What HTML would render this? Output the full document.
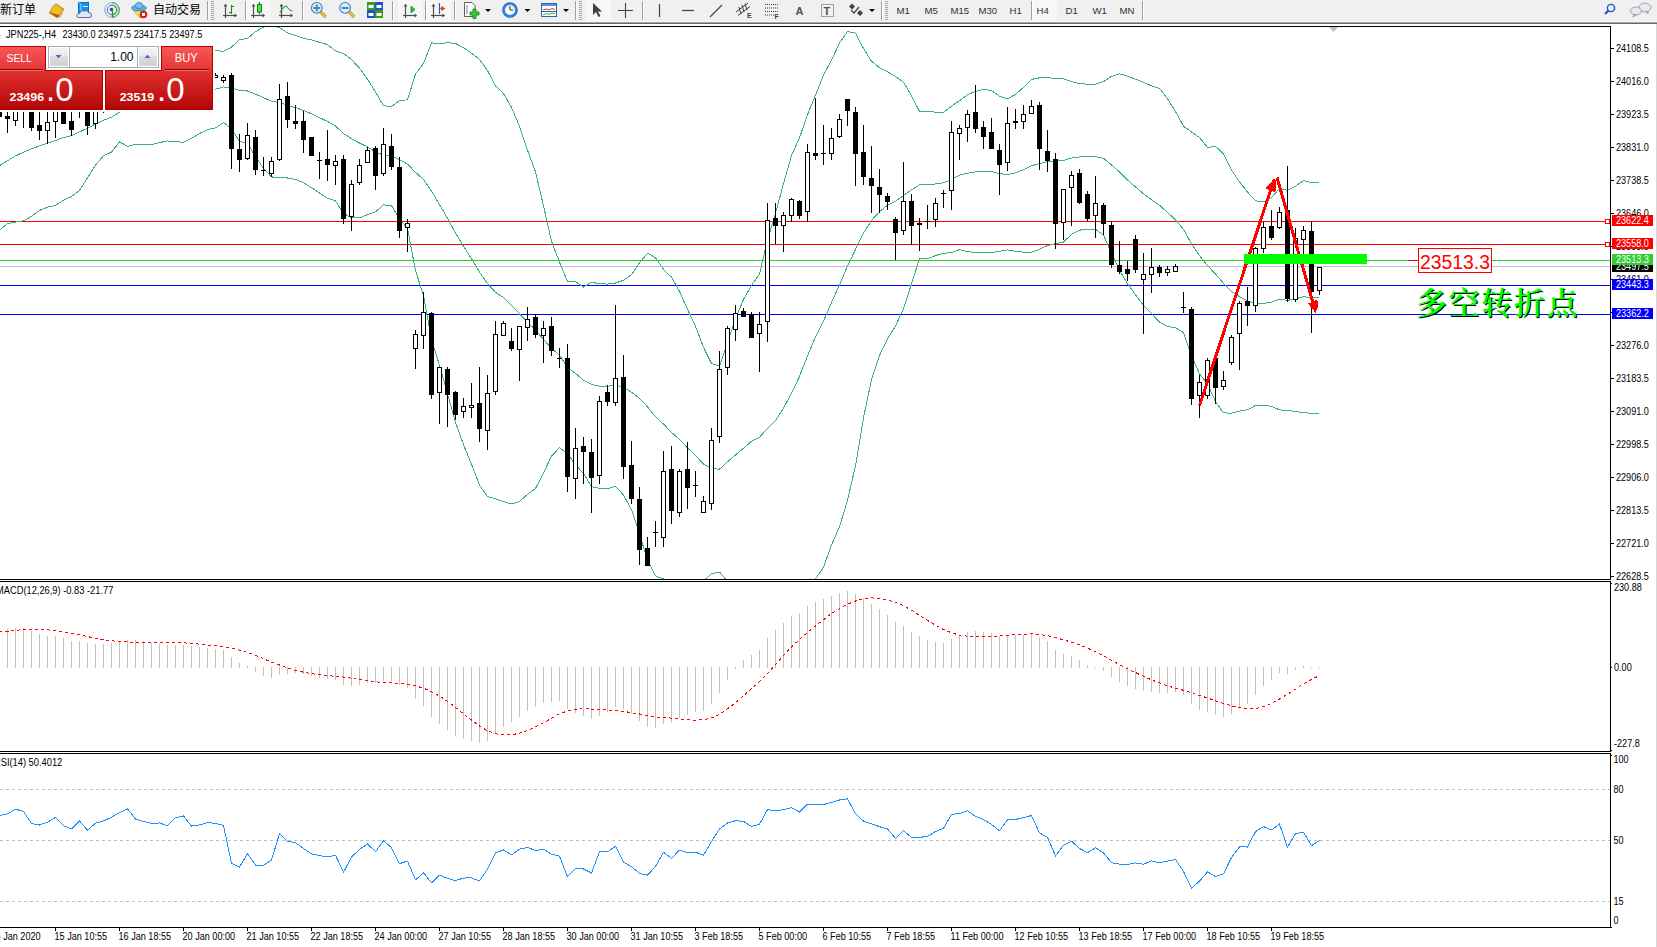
<!DOCTYPE html>
<html><head><meta charset="utf-8"><style>
*{margin:0;padding:0;box-sizing:border-box}
html,body{width:1657px;height:947px;overflow:hidden;background:#fff}
body{position:relative;font-family:"Liberation Sans","Noto Sans CJK SC",sans-serif}
#tb{position:absolute;left:0;top:0;width:1657px;height:24px;background:#f0f0f0;border-bottom:1px solid #696969}
#tb .l1{position:absolute;left:0;top:21px;width:1657px;height:1px;background:#f8f8f8}
#tb .l2{position:absolute;left:0;top:22px;width:1657px;height:1px;background:#a3a3a3}
.rb{position:absolute;left:1656px;top:24px;width:1px;height:923px;background:#d8d8d8}
.info{position:absolute;left:-1px;top:29px;font-size:9.3px;line-height:12px;color:#000;white-space:pre;font-family:"Liberation Sans",sans-serif}
.cn{position:absolute;left:1416px;top:286px;font-family:"Liberation Serif","Noto Serif CJK SC",serif;font-weight:600;font-size:31px;letter-spacing:1.6px;line-height:36px;color:#00ff00;text-shadow:1px 1px 0 #000;white-space:pre}
</style></head><body>
<svg width="1657" height="947" viewBox="0 0 1657 947" style="position:absolute;left:0;top:0"><defs><clipPath id="cm"><rect x="0" y="27" width="1610" height="552"/></clipPath><clipPath id="cmacd"><rect x="0" y="582" width="1610" height="169"/></clipPath><clipPath id="crsi"><rect x="0" y="754" width="1610" height="173"/></clipPath></defs><g clip-path="url(#cm)"><rect x="0" y="221" width="1610" height="1" fill="#ff0000"/><rect x="0" y="244" width="1610" height="1" fill="#ff0000"/><rect x="0" y="260" width="1610" height="1" fill="#32cd32"/><rect x="0" y="266" width="1610" height="1" fill="#c0c0c0"/><rect x="0" y="285" width="1610" height="1" fill="#0000ff"/><rect x="0" y="314" width="1610" height="1" fill="#0000ff"/><rect x="1605.5" y="219.5" width="4" height="4" fill="#fff" stroke="#ff0000" stroke-width="1"/><rect x="1605.5" y="242.5" width="4" height="4" fill="#fff" stroke="#ff0000" stroke-width="1"/><polyline points="-0.5,165.61 7.5,160.72 15.5,155.93 23.5,152.12 31.5,148.97 39.5,145.84 47.5,143.20 55.5,140.41 63.5,137.56 71.5,135.53 79.5,131.92 87.5,128.20 95.5,123.97 103.5,120.27 111.5,117.15 119.5,112.25 127.5,109.50 135.5,106.85 143.5,106.08 151.5,104.94 159.5,103.01 167.5,101.56 175.5,100.09 183.5,98.19 191.5,95.89 199.5,93.32 207.5,90.90 215.5,89.22 223.5,86.93 231.5,87.90 239.5,90.47 247.5,91.00 255.5,94.14 263.5,97.67 271.5,101.28 279.5,102.50 287.5,105.37 295.5,107.60 303.5,110.42 311.5,113.86 319.5,117.64 327.5,121.38 335.5,125.89 343.5,133.49 351.5,138.67 359.5,143.03 367.5,146.88 375.5,151.92 383.5,155.29 391.5,156.17 399.5,159.72 407.5,164.08 415.5,172.35 423.5,179.47 431.5,191.13 439.5,204.57 447.5,218.33 455.5,232.88 463.5,246.22 471.5,258.75 479.5,272.13 487.5,283.58 495.5,292.27 503.5,297.54 511.5,305.72 519.5,313.77 527.5,322.23 535.5,330.18 543.5,339.38 551.5,348.59 559.5,354.97 567.5,367.62 575.5,373.32 583.5,380.25 591.5,384.41 599.5,386.07 607.5,386.41 615.5,384.62 623.5,387.62 631.5,392.23 639.5,398.28 647.5,406.89 655.5,416.77 663.5,424.16 671.5,432.27 679.5,439.53 687.5,447.89 695.5,455.45 703.5,464.10 711.5,468.59 719.5,469.17 727.5,461.81 735.5,455.02 743.5,448.26 751.5,441.24 759.5,437.39 767.5,428.33 775.5,420.68 783.5,408.13 791.5,393.21 799.5,376.49 807.5,355.88 815.5,337.00 823.5,321.12 831.5,302.50 839.5,284.89 847.5,266.05 855.5,249.43 863.5,233.15 871.5,220.40 879.5,211.64 887.5,205.26 895.5,201.21 903.5,195.47 911.5,189.88 919.5,184.90 927.5,184.97 935.5,183.88 943.5,182.78 951.5,179.44 959.5,175.13 967.5,173.23 975.5,171.89 983.5,171.01 991.5,171.52 999.5,173.74 1007.5,174.41 1015.5,172.87 1023.5,169.80 1031.5,165.88 1039.5,163.57 1047.5,161.52 1055.5,161.06 1063.5,160.50 1071.5,158.03 1079.5,156.94 1087.5,156.79 1095.5,156.79 1103.5,158.28 1111.5,164.86 1119.5,171.98 1127.5,179.90 1135.5,186.94 1143.5,193.83 1151.5,199.78 1159.5,205.21 1167.5,212.53 1175.5,219.74 1183.5,229.37 1191.5,243.95 1199.5,255.68 1207.5,265.69 1215.5,273.90 1223.5,283.41 1231.5,291.51 1239.5,296.58 1247.5,300.91 1255.5,303.17 1263.5,303.37 1271.5,302.05 1279.5,299.13 1287.5,300.39 1295.5,298.83 1303.5,296.67 1311.5,297.88 1319.5,297.59" fill="none" stroke="#3cb371" stroke-width="1" shape-rendering="crispEdges" stroke-linejoin="round"/><polyline points="-0.5,229.94 7.5,223.79 15.5,222.03 23.5,220.84 31.5,216.23 39.5,210.44 47.5,207.15 55.5,205.38 63.5,200.28 71.5,196.55 79.5,190.40 87.5,177.79 95.5,165.08 103.5,155.68 111.5,152.13 119.5,141.88 127.5,146.26 135.5,144.40 143.5,144.92 151.5,144.67 159.5,142.64 167.5,140.97 175.5,141.72 183.5,142.26 191.5,138.48 199.5,133.51 207.5,129.69 215.5,127.80 223.5,122.52 231.5,128.71 239.5,141.29 247.5,143.45 255.5,156.54 263.5,168.35 271.5,176.98 279.5,177.22 287.5,178.01 295.5,179.58 303.5,182.71 311.5,187.78 319.5,193.01 327.5,198.18 335.5,200.85 343.5,213.41 351.5,217.76 359.5,217.87 367.5,214.62 375.5,211.91 383.5,204.79 391.5,205.79 399.5,218.97 407.5,228.30 415.5,270.71 423.5,295.30 431.5,339.51 439.5,365.31 447.5,393.95 455.5,422.30 463.5,444.76 471.5,464.24 479.5,485.05 487.5,496.67 495.5,498.72 503.5,501.55 511.5,504.00 519.5,501.45 527.5,494.34 535.5,488.52 543.5,473.02 551.5,456.00 559.5,447.70 567.5,453.73 575.5,464.93 583.5,473.43 591.5,486.68 599.5,488.29 607.5,488.78 615.5,486.22 623.5,494.94 631.5,509.74 639.5,533.69 647.5,560.53 655.5,575.91 663.5,579.03 671.5,587.36 679.5,587.60 687.5,586.59 695.5,584.68 703.5,580.83 711.5,573.79 719.5,572.03 727.5,581.34 735.5,591.00 743.5,597.15 751.5,597.06 759.5,600.62 767.5,616.76 775.5,628.04 783.5,632.64 791.5,631.10 799.5,615.14 807.5,596.99 815.5,578.98 823.5,567.32 831.5,544.93 839.5,526.72 847.5,500.51 855.5,465.79 863.5,417.77 871.5,379.59 879.5,355.57 887.5,338.77 895.5,326.01 903.5,308.64 911.5,283.97 919.5,258.33 927.5,258.54 935.5,255.63 943.5,253.24 951.5,252.67 959.5,249.61 967.5,251.72 975.5,252.46 983.5,252.73 991.5,252.53 999.5,251.31 1007.5,249.98 1015.5,251.33 1023.5,252.20 1031.5,252.34 1039.5,249.34 1047.5,245.52 1055.5,243.59 1063.5,242.07 1071.5,234.45 1079.5,230.08 1087.5,229.44 1095.5,229.42 1103.5,234.96 1111.5,253.34 1119.5,270.10 1127.5,283.69 1135.5,294.81 1143.5,305.42 1151.5,313.64 1159.5,322.08 1167.5,326.33 1175.5,327.88 1183.5,332.60 1191.5,355.86 1199.5,373.91 1207.5,383.86 1215.5,401.51 1223.5,412.91 1231.5,413.11 1239.5,411.16 1247.5,409.75 1255.5,405.53 1263.5,405.11 1271.5,406.43 1279.5,409.88 1287.5,410.49 1295.5,411.50 1303.5,412.76 1311.5,413.21 1319.5,413.20" fill="none" stroke="#3cb371" stroke-width="1" shape-rendering="crispEdges" stroke-linejoin="round"/><polyline points="-0.5,101.29 7.5,97.65 15.5,89.83 23.5,83.40 31.5,81.72 39.5,81.24 47.5,79.24 55.5,75.44 63.5,74.84 71.5,74.50 79.5,73.43 87.5,78.61 95.5,82.86 103.5,84.85 111.5,82.17 119.5,82.62 127.5,72.74 135.5,69.30 143.5,67.24 151.5,65.21 159.5,63.37 167.5,62.15 175.5,58.45 183.5,54.12 191.5,53.31 199.5,53.13 207.5,52.10 215.5,50.63 223.5,51.34 231.5,47.09 239.5,39.65 247.5,38.55 255.5,31.75 263.5,26.98 271.5,25.57 279.5,27.78 287.5,32.74 295.5,35.62 303.5,38.14 311.5,39.94 319.5,42.27 327.5,44.59 335.5,50.94 343.5,53.57 351.5,59.57 359.5,68.19 367.5,79.14 375.5,91.92 383.5,105.79 391.5,106.55 399.5,100.46 407.5,99.86 415.5,73.99 423.5,63.65 431.5,42.75 439.5,43.83 447.5,42.71 455.5,43.46 463.5,47.69 471.5,53.27 479.5,59.22 487.5,70.49 495.5,85.82 503.5,93.54 511.5,107.44 519.5,126.09 527.5,150.13 535.5,171.84 543.5,205.75 551.5,241.18 559.5,262.24 567.5,281.51 575.5,281.72 583.5,287.07 591.5,282.14 599.5,283.86 607.5,284.04 615.5,283.03 623.5,280.30 631.5,274.73 639.5,262.88 647.5,253.25 655.5,257.63 663.5,269.30 671.5,277.19 679.5,291.46 687.5,309.20 695.5,326.23 703.5,347.37 711.5,363.39 719.5,366.31 727.5,342.28 735.5,319.05 743.5,299.37 751.5,285.43 759.5,274.16 767.5,239.90 775.5,213.31 783.5,183.63 791.5,155.32 799.5,137.85 807.5,114.76 815.5,95.03 823.5,74.91 831.5,60.06 839.5,43.06 847.5,31.58 855.5,33.07 863.5,48.53 871.5,61.22 879.5,67.71 887.5,71.76 895.5,76.42 903.5,82.31 911.5,95.80 919.5,111.47 927.5,111.40 935.5,112.13 943.5,112.31 951.5,106.20 959.5,100.64 967.5,94.73 975.5,91.32 983.5,89.29 991.5,90.50 999.5,96.16 1007.5,98.83 1015.5,94.40 1023.5,87.39 1031.5,79.42 1039.5,77.80 1047.5,77.52 1055.5,78.53 1063.5,78.92 1071.5,81.61 1079.5,83.79 1087.5,84.14 1095.5,84.15 1103.5,81.60 1111.5,76.38 1119.5,73.86 1127.5,76.11 1135.5,79.08 1143.5,82.25 1151.5,85.92 1159.5,88.35 1167.5,98.72 1175.5,111.60 1183.5,126.14 1191.5,132.05 1199.5,137.45 1207.5,147.52 1215.5,146.29 1223.5,153.92 1231.5,169.91 1239.5,182.01 1247.5,192.07 1255.5,200.81 1263.5,201.64 1271.5,197.67 1279.5,188.38 1287.5,190.28 1295.5,186.16 1303.5,180.58 1311.5,182.54 1319.5,181.97" fill="none" stroke="#3cb371" stroke-width="1" shape-rendering="crispEdges" stroke-linejoin="round"/><rect x="-1" y="95" width="1" height="22" fill="#000"/><rect x="-3" y="100" width="5" height="17" fill="#000"/><rect x="7" y="95" width="1" height="38" fill="#000"/><rect x="5" y="116" width="5" height="3" fill="#000"/><rect x="15" y="95" width="1" height="31" fill="#000"/><rect x="13" y="100" width="5" height="21" fill="#000"/><rect x="14" y="101" width="3" height="19" fill="#fff"/><rect x="23" y="100" width="1" height="28" fill="#000"/><rect x="31" y="95" width="1" height="36" fill="#000"/><rect x="29" y="100" width="5" height="28" fill="#000"/><rect x="39" y="95" width="1" height="45" fill="#000"/><rect x="37" y="125" width="5" height="6" fill="#000"/><rect x="47" y="95" width="1" height="49" fill="#000"/><rect x="45" y="122" width="5" height="9" fill="#000"/><rect x="46" y="123" width="3" height="7" fill="#fff"/><rect x="55" y="95" width="1" height="43" fill="#000"/><rect x="53" y="100" width="5" height="22" fill="#000"/><rect x="54" y="101" width="3" height="20" fill="#fff"/><rect x="63" y="95" width="1" height="29" fill="#000"/><rect x="61" y="100" width="5" height="24" fill="#000"/><rect x="71" y="95" width="1" height="41" fill="#000"/><rect x="69" y="121" width="5" height="9" fill="#000"/><rect x="79" y="100" width="1" height="18" fill="#000"/><rect x="87" y="95" width="1" height="40" fill="#000"/><rect x="85" y="100" width="5" height="26" fill="#000"/><rect x="95" y="95" width="1" height="34" fill="#000"/><rect x="93" y="100" width="5" height="24" fill="#000"/><rect x="94" y="101" width="3" height="22" fill="#fff"/><rect x="103" y="100" width="1" height="13" fill="#000"/><rect x="215" y="73" width="1" height="5" fill="#000"/><rect x="213" y="75" width="5" height="3" fill="#000"/><rect x="214" y="76" width="3" height="1" fill="#fff"/><rect x="223" y="75" width="1" height="8" fill="#000"/><rect x="221" y="77" width="5" height="4" fill="#000"/><rect x="222" y="78" width="3" height="2" fill="#fff"/><rect x="231" y="73" width="1" height="96" fill="#000"/><rect x="229" y="75" width="5" height="74" fill="#000"/><rect x="239" y="134" width="1" height="38" fill="#000"/><rect x="237" y="149" width="5" height="11" fill="#000"/><rect x="247" y="123" width="1" height="37" fill="#000"/><rect x="245" y="135" width="5" height="24" fill="#000"/><rect x="246" y="136" width="3" height="22" fill="#fff"/><rect x="255" y="130" width="1" height="45" fill="#000"/><rect x="253" y="137" width="5" height="33" fill="#000"/><rect x="263" y="157" width="1" height="19" fill="#000"/><rect x="261" y="170" width="5" height="1" fill="#000"/><rect x="271" y="157" width="1" height="20" fill="#000"/><rect x="269" y="161" width="5" height="13" fill="#000"/><rect x="270" y="162" width="3" height="11" fill="#fff"/><rect x="279" y="84" width="1" height="77" fill="#000"/><rect x="277" y="99" width="5" height="61" fill="#000"/><rect x="278" y="100" width="3" height="59" fill="#fff"/><rect x="287" y="82" width="1" height="46" fill="#000"/><rect x="285" y="96" width="5" height="24" fill="#000"/><rect x="295" y="105" width="1" height="24" fill="#000"/><rect x="293" y="121" width="5" height="3" fill="#000"/><rect x="303" y="111" width="1" height="42" fill="#000"/><rect x="301" y="121" width="5" height="19" fill="#000"/><rect x="311" y="137" width="1" height="19" fill="#000"/><rect x="309" y="137" width="5" height="19" fill="#000"/><rect x="319" y="152" width="1" height="27" fill="#000"/><rect x="317" y="160" width="5" height="1" fill="#000"/><rect x="327" y="130" width="1" height="51" fill="#000"/><rect x="325" y="159" width="5" height="6" fill="#000"/><rect x="335" y="155" width="1" height="30" fill="#000"/><rect x="333" y="161" width="5" height="5" fill="#000"/><rect x="334" y="162" width="3" height="3" fill="#fff"/><rect x="343" y="155" width="1" height="69" fill="#000"/><rect x="341" y="159" width="5" height="60" fill="#000"/><rect x="351" y="180" width="1" height="51" fill="#000"/><rect x="349" y="184" width="5" height="33" fill="#000"/><rect x="350" y="185" width="3" height="31" fill="#fff"/><rect x="359" y="159" width="1" height="26" fill="#000"/><rect x="357" y="165" width="5" height="18" fill="#000"/><rect x="358" y="166" width="3" height="16" fill="#fff"/><rect x="367" y="147" width="1" height="16" fill="#000"/><rect x="365" y="150" width="5" height="13" fill="#000"/><rect x="366" y="151" width="3" height="11" fill="#fff"/><rect x="375" y="146" width="1" height="44" fill="#000"/><rect x="373" y="148" width="5" height="28" fill="#000"/><rect x="383" y="128" width="1" height="48" fill="#000"/><rect x="381" y="144" width="5" height="30" fill="#000"/><rect x="382" y="145" width="3" height="28" fill="#fff"/><rect x="391" y="134" width="1" height="36" fill="#000"/><rect x="389" y="146" width="5" height="21" fill="#000"/><rect x="399" y="157" width="1" height="81" fill="#000"/><rect x="397" y="167" width="5" height="64" fill="#000"/><rect x="407" y="219" width="1" height="33" fill="#000"/><rect x="405" y="223" width="5" height="5" fill="#000"/><rect x="406" y="224" width="3" height="3" fill="#fff"/><rect x="415" y="330" width="1" height="39" fill="#000"/><rect x="413" y="334" width="5" height="15" fill="#000"/><rect x="414" y="335" width="3" height="13" fill="#fff"/><rect x="423" y="292" width="1" height="57" fill="#000"/><rect x="421" y="312" width="5" height="24" fill="#000"/><rect x="422" y="313" width="3" height="22" fill="#fff"/><rect x="431" y="312" width="1" height="87" fill="#000"/><rect x="429" y="313" width="5" height="82" fill="#000"/><rect x="439" y="367" width="1" height="57" fill="#000"/><rect x="437" y="367" width="5" height="26" fill="#000"/><rect x="438" y="368" width="3" height="24" fill="#fff"/><rect x="447" y="367" width="1" height="60" fill="#000"/><rect x="445" y="369" width="5" height="26" fill="#000"/><rect x="455" y="391" width="1" height="29" fill="#000"/><rect x="453" y="392" width="5" height="23" fill="#000"/><rect x="463" y="398" width="1" height="20" fill="#000"/><rect x="461" y="406" width="5" height="6" fill="#000"/><rect x="462" y="407" width="3" height="4" fill="#fff"/><rect x="471" y="383" width="1" height="35" fill="#000"/><rect x="469" y="405" width="5" height="3" fill="#000"/><rect x="470" y="406" width="3" height="1" fill="#fff"/><rect x="479" y="367" width="1" height="75" fill="#000"/><rect x="477" y="403" width="5" height="26" fill="#000"/><rect x="487" y="375" width="1" height="75" fill="#000"/><rect x="485" y="393" width="5" height="38" fill="#000"/><rect x="486" y="394" width="3" height="36" fill="#fff"/><rect x="495" y="321" width="1" height="74" fill="#000"/><rect x="493" y="334" width="5" height="58" fill="#000"/><rect x="494" y="335" width="3" height="56" fill="#fff"/><rect x="503" y="321" width="1" height="15" fill="#000"/><rect x="501" y="323" width="5" height="13" fill="#000"/><rect x="502" y="324" width="3" height="11" fill="#fff"/><rect x="511" y="328" width="1" height="23" fill="#000"/><rect x="509" y="341" width="5" height="8" fill="#000"/><rect x="519" y="326" width="1" height="55" fill="#000"/><rect x="517" y="326" width="5" height="24" fill="#000"/><rect x="518" y="327" width="3" height="22" fill="#fff"/><rect x="527" y="307" width="1" height="34" fill="#000"/><rect x="525" y="319" width="5" height="9" fill="#000"/><rect x="526" y="320" width="3" height="7" fill="#fff"/><rect x="535" y="314" width="1" height="24" fill="#000"/><rect x="533" y="317" width="5" height="18" fill="#000"/><rect x="543" y="321" width="1" height="42" fill="#000"/><rect x="541" y="328" width="5" height="8" fill="#000"/><rect x="542" y="329" width="3" height="6" fill="#fff"/><rect x="551" y="317" width="1" height="39" fill="#000"/><rect x="549" y="326" width="5" height="25" fill="#000"/><rect x="559" y="348" width="1" height="20" fill="#000"/><rect x="557" y="358" width="5" height="1" fill="#000"/><rect x="567" y="344" width="1" height="148" fill="#000"/><rect x="565" y="358" width="5" height="119" fill="#000"/><rect x="575" y="428" width="1" height="71" fill="#000"/><rect x="573" y="448" width="5" height="31" fill="#000"/><rect x="574" y="449" width="3" height="29" fill="#fff"/><rect x="583" y="437" width="1" height="47" fill="#000"/><rect x="581" y="446" width="5" height="6" fill="#000"/><rect x="591" y="439" width="1" height="74" fill="#000"/><rect x="589" y="452" width="5" height="26" fill="#000"/><rect x="599" y="396" width="1" height="88" fill="#000"/><rect x="597" y="401" width="5" height="75" fill="#000"/><rect x="598" y="402" width="3" height="73" fill="#fff"/><rect x="607" y="385" width="1" height="21" fill="#000"/><rect x="605" y="392" width="5" height="10" fill="#000"/><rect x="615" y="305" width="1" height="101" fill="#000"/><rect x="613" y="378" width="5" height="25" fill="#000"/><rect x="614" y="379" width="3" height="23" fill="#fff"/><rect x="623" y="355" width="1" height="124" fill="#000"/><rect x="621" y="377" width="5" height="90" fill="#000"/><rect x="631" y="441" width="1" height="63" fill="#000"/><rect x="629" y="465" width="5" height="34" fill="#000"/><rect x="639" y="487" width="1" height="78" fill="#000"/><rect x="637" y="499" width="5" height="51" fill="#000"/><rect x="647" y="537" width="1" height="29" fill="#000"/><rect x="645" y="548" width="5" height="18" fill="#000"/><rect x="655" y="521" width="1" height="26" fill="#000"/><rect x="653" y="532" width="5" height="1" fill="#000"/><rect x="663" y="451" width="1" height="96" fill="#000"/><rect x="661" y="471" width="5" height="67" fill="#000"/><rect x="662" y="472" width="3" height="65" fill="#fff"/><rect x="671" y="446" width="1" height="78" fill="#000"/><rect x="669" y="469" width="5" height="42" fill="#000"/><rect x="679" y="469" width="1" height="48" fill="#000"/><rect x="677" y="471" width="5" height="42" fill="#000"/><rect x="678" y="472" width="3" height="40" fill="#fff"/><rect x="687" y="442" width="1" height="67" fill="#000"/><rect x="685" y="469" width="5" height="19" fill="#000"/><rect x="695" y="471" width="1" height="26" fill="#000"/><rect x="693" y="485" width="5" height="1" fill="#000"/><rect x="703" y="496" width="1" height="17" fill="#000"/><rect x="701" y="501" width="5" height="12" fill="#000"/><rect x="702" y="502" width="3" height="10" fill="#fff"/><rect x="711" y="428" width="1" height="82" fill="#000"/><rect x="709" y="440" width="5" height="64" fill="#000"/><rect x="710" y="441" width="3" height="62" fill="#fff"/><rect x="719" y="351" width="1" height="92" fill="#000"/><rect x="717" y="369" width="5" height="68" fill="#000"/><rect x="718" y="370" width="3" height="66" fill="#fff"/><rect x="727" y="326" width="1" height="49" fill="#000"/><rect x="725" y="328" width="5" height="40" fill="#000"/><rect x="726" y="329" width="3" height="38" fill="#fff"/><rect x="735" y="305" width="1" height="36" fill="#000"/><rect x="733" y="313" width="5" height="17" fill="#000"/><rect x="734" y="314" width="3" height="15" fill="#fff"/><rect x="743" y="308" width="1" height="9" fill="#000"/><rect x="741" y="311" width="5" height="6" fill="#000"/><rect x="751" y="312" width="1" height="26" fill="#000"/><rect x="749" y="314" width="5" height="24" fill="#000"/><rect x="759" y="312" width="1" height="60" fill="#000"/><rect x="757" y="324" width="5" height="10" fill="#000"/><rect x="758" y="325" width="3" height="8" fill="#fff"/><rect x="767" y="203" width="1" height="139" fill="#000"/><rect x="765" y="220" width="5" height="102" fill="#000"/><rect x="766" y="221" width="3" height="100" fill="#fff"/><rect x="775" y="203" width="1" height="41" fill="#000"/><rect x="773" y="218" width="5" height="8" fill="#000"/><rect x="783" y="212" width="1" height="40" fill="#000"/><rect x="781" y="215" width="5" height="11" fill="#000"/><rect x="782" y="216" width="3" height="9" fill="#fff"/><rect x="791" y="198" width="1" height="24" fill="#000"/><rect x="789" y="199" width="5" height="17" fill="#000"/><rect x="790" y="200" width="3" height="15" fill="#fff"/><rect x="799" y="200" width="1" height="19" fill="#000"/><rect x="797" y="201" width="5" height="15" fill="#000"/><rect x="807" y="144" width="1" height="78" fill="#000"/><rect x="805" y="152" width="5" height="60" fill="#000"/><rect x="806" y="153" width="3" height="58" fill="#fff"/><rect x="815" y="98" width="1" height="62" fill="#000"/><rect x="813" y="153" width="5" height="3" fill="#000"/><rect x="823" y="125" width="1" height="40" fill="#000"/><rect x="821" y="153" width="5" height="1" fill="#000"/><rect x="831" y="128" width="1" height="32" fill="#000"/><rect x="829" y="138" width="5" height="16" fill="#000"/><rect x="830" y="139" width="3" height="14" fill="#fff"/><rect x="839" y="114" width="1" height="24" fill="#000"/><rect x="837" y="119" width="5" height="18" fill="#000"/><rect x="838" y="120" width="3" height="16" fill="#fff"/><rect x="847" y="99" width="1" height="27" fill="#000"/><rect x="845" y="99" width="5" height="12" fill="#000"/><rect x="855" y="107" width="1" height="79" fill="#000"/><rect x="853" y="112" width="5" height="42" fill="#000"/><rect x="863" y="125" width="1" height="60" fill="#000"/><rect x="861" y="152" width="5" height="25" fill="#000"/><rect x="871" y="146" width="1" height="67" fill="#000"/><rect x="869" y="178" width="5" height="8" fill="#000"/><rect x="879" y="169" width="1" height="44" fill="#000"/><rect x="877" y="187" width="5" height="8" fill="#000"/><rect x="887" y="193" width="1" height="17" fill="#000"/><rect x="885" y="196" width="5" height="6" fill="#000"/><rect x="895" y="217" width="1" height="43" fill="#000"/><rect x="893" y="219" width="5" height="14" fill="#000"/><rect x="903" y="162" width="1" height="73" fill="#000"/><rect x="901" y="201" width="5" height="30" fill="#000"/><rect x="902" y="202" width="3" height="28" fill="#fff"/><rect x="911" y="194" width="1" height="51" fill="#000"/><rect x="909" y="201" width="5" height="25" fill="#000"/><rect x="919" y="218" width="1" height="33" fill="#000"/><rect x="917" y="223" width="5" height="2" fill="#000"/><rect x="927" y="205" width="1" height="24" fill="#000"/><rect x="925" y="221" width="5" height="1" fill="#000"/><rect x="935" y="198" width="1" height="29" fill="#000"/><rect x="933" y="203" width="5" height="17" fill="#000"/><rect x="934" y="204" width="3" height="15" fill="#fff"/><rect x="943" y="190" width="1" height="18" fill="#000"/><rect x="941" y="193" width="5" height="1" fill="#000"/><rect x="951" y="121" width="1" height="89" fill="#000"/><rect x="949" y="132" width="5" height="59" fill="#000"/><rect x="950" y="133" width="3" height="57" fill="#fff"/><rect x="959" y="125" width="1" height="35" fill="#000"/><rect x="957" y="128" width="5" height="6" fill="#000"/><rect x="958" y="129" width="3" height="4" fill="#fff"/><rect x="967" y="110" width="1" height="32" fill="#000"/><rect x="965" y="114" width="5" height="14" fill="#000"/><rect x="966" y="115" width="3" height="12" fill="#fff"/><rect x="975" y="85" width="1" height="48" fill="#000"/><rect x="973" y="112" width="5" height="17" fill="#000"/><rect x="983" y="121" width="1" height="28" fill="#000"/><rect x="981" y="127" width="5" height="10" fill="#000"/><rect x="991" y="118" width="1" height="31" fill="#000"/><rect x="989" y="132" width="5" height="17" fill="#000"/><rect x="999" y="144" width="1" height="51" fill="#000"/><rect x="997" y="150" width="5" height="15" fill="#000"/><rect x="1007" y="107" width="1" height="64" fill="#000"/><rect x="1005" y="123" width="5" height="40" fill="#000"/><rect x="1006" y="124" width="3" height="38" fill="#fff"/><rect x="1015" y="109" width="1" height="20" fill="#000"/><rect x="1013" y="121" width="5" height="2" fill="#000"/><rect x="1023" y="105" width="1" height="24" fill="#000"/><rect x="1021" y="114" width="5" height="8" fill="#000"/><rect x="1022" y="115" width="3" height="6" fill="#fff"/><rect x="1031" y="100" width="1" height="14" fill="#000"/><rect x="1029" y="106" width="5" height="8" fill="#000"/><rect x="1030" y="107" width="3" height="6" fill="#fff"/><rect x="1039" y="102" width="1" height="68" fill="#000"/><rect x="1037" y="105" width="5" height="44" fill="#000"/><rect x="1047" y="130" width="1" height="42" fill="#000"/><rect x="1045" y="151" width="5" height="10" fill="#000"/><rect x="1055" y="153" width="1" height="96" fill="#000"/><rect x="1053" y="159" width="5" height="65" fill="#000"/><rect x="1063" y="189" width="1" height="51" fill="#000"/><rect x="1061" y="189" width="5" height="34" fill="#000"/><rect x="1062" y="190" width="3" height="32" fill="#fff"/><rect x="1071" y="171" width="1" height="55" fill="#000"/><rect x="1069" y="175" width="5" height="13" fill="#000"/><rect x="1070" y="176" width="3" height="11" fill="#fff"/><rect x="1079" y="169" width="1" height="35" fill="#000"/><rect x="1077" y="173" width="5" height="30" fill="#000"/><rect x="1087" y="191" width="1" height="30" fill="#000"/><rect x="1085" y="194" width="5" height="25" fill="#000"/><rect x="1095" y="176" width="1" height="62" fill="#000"/><rect x="1093" y="203" width="5" height="13" fill="#000"/><rect x="1094" y="204" width="3" height="11" fill="#fff"/><rect x="1103" y="203" width="1" height="32" fill="#000"/><rect x="1101" y="205" width="5" height="19" fill="#000"/><rect x="1111" y="221" width="1" height="47" fill="#000"/><rect x="1109" y="225" width="5" height="40" fill="#000"/><rect x="1119" y="241" width="1" height="33" fill="#000"/><rect x="1117" y="265" width="5" height="7" fill="#000"/><rect x="1127" y="261" width="1" height="20" fill="#000"/><rect x="1125" y="269" width="5" height="5" fill="#000"/><rect x="1135" y="235" width="1" height="38" fill="#000"/><rect x="1133" y="239" width="5" height="31" fill="#000"/><rect x="1143" y="253" width="1" height="81" fill="#000"/><rect x="1141" y="274" width="5" height="6" fill="#000"/><rect x="1142" y="275" width="3" height="4" fill="#fff"/><rect x="1151" y="248" width="1" height="45" fill="#000"/><rect x="1149" y="267" width="5" height="8" fill="#000"/><rect x="1150" y="268" width="3" height="6" fill="#fff"/><rect x="1159" y="265" width="1" height="12" fill="#000"/><rect x="1157" y="267" width="5" height="6" fill="#000"/><rect x="1167" y="266" width="1" height="10" fill="#000"/><rect x="1165" y="269" width="5" height="4" fill="#000"/><rect x="1166" y="270" width="3" height="2" fill="#fff"/><rect x="1175" y="264" width="1" height="8" fill="#000"/><rect x="1173" y="266" width="5" height="6" fill="#000"/><rect x="1174" y="267" width="3" height="4" fill="#fff"/><rect x="1183" y="292" width="1" height="21" fill="#000"/><rect x="1181" y="307" width="5" height="1" fill="#000"/><rect x="1191" y="307" width="1" height="98" fill="#000"/><rect x="1189" y="309" width="5" height="90" fill="#000"/><rect x="1199" y="375" width="1" height="43" fill="#000"/><rect x="1197" y="382" width="5" height="14" fill="#000"/><rect x="1198" y="383" width="3" height="12" fill="#fff"/><rect x="1207" y="358" width="1" height="41" fill="#000"/><rect x="1205" y="360" width="5" height="36" fill="#000"/><rect x="1206" y="361" width="3" height="34" fill="#fff"/><rect x="1215" y="358" width="1" height="46" fill="#000"/><rect x="1213" y="358" width="5" height="30" fill="#000"/><rect x="1223" y="371" width="1" height="19" fill="#000"/><rect x="1221" y="380" width="5" height="7" fill="#000"/><rect x="1222" y="381" width="3" height="5" fill="#fff"/><rect x="1231" y="335" width="1" height="30" fill="#000"/><rect x="1229" y="337" width="5" height="26" fill="#000"/><rect x="1230" y="338" width="3" height="24" fill="#fff"/><rect x="1239" y="301" width="1" height="69" fill="#000"/><rect x="1237" y="303" width="5" height="31" fill="#000"/><rect x="1238" y="304" width="3" height="29" fill="#fff"/><rect x="1247" y="287" width="1" height="39" fill="#000"/><rect x="1245" y="301" width="5" height="5" fill="#000"/><rect x="1255" y="247" width="1" height="65" fill="#000"/><rect x="1253" y="248" width="5" height="58" fill="#000"/><rect x="1254" y="249" width="3" height="56" fill="#fff"/><rect x="1263" y="222" width="1" height="31" fill="#000"/><rect x="1261" y="227" width="5" height="22" fill="#000"/><rect x="1262" y="228" width="3" height="20" fill="#fff"/><rect x="1271" y="210" width="1" height="30" fill="#000"/><rect x="1269" y="226" width="5" height="12" fill="#000"/><rect x="1279" y="207" width="1" height="22" fill="#000"/><rect x="1277" y="212" width="5" height="16" fill="#000"/><rect x="1278" y="213" width="3" height="14" fill="#fff"/><rect x="1287" y="166" width="1" height="136" fill="#000"/><rect x="1285" y="210" width="5" height="89" fill="#000"/><rect x="1295" y="228" width="1" height="74" fill="#000"/><rect x="1293" y="238" width="5" height="62" fill="#000"/><rect x="1294" y="239" width="3" height="60" fill="#fff"/><rect x="1303" y="226" width="1" height="29" fill="#000"/><rect x="1301" y="230" width="5" height="10" fill="#000"/><rect x="1302" y="231" width="3" height="8" fill="#fff"/><rect x="1311" y="221" width="1" height="112" fill="#000"/><rect x="1309" y="231" width="5" height="61" fill="#000"/><rect x="1319" y="267" width="1" height="28" fill="#000"/><rect x="1317" y="267" width="5" height="24" fill="#000"/><rect x="1318" y="268" width="3" height="22" fill="#fff"/></g><rect x="0" y="26" width="1611" height="1" fill="#000"/><rect x="0" y="579" width="1611" height="1" fill="#000"/><rect x="1610" y="26" width="1" height="554" fill="#000"/><rect x="0" y="581" width="1611" height="1" fill="#000"/><rect x="0" y="751" width="1611" height="1" fill="#000"/><rect x="1610" y="581" width="1" height="171" fill="#000"/><rect x="0" y="753" width="1611" height="1" fill="#000"/><rect x="0" y="927" width="1611" height="1" fill="#000"/><rect x="1610" y="753" width="1" height="175" fill="#000"/><rect x="1611" y="48" width="3" height="1" fill="#000"/><text x="1616.00" y="52" font-family="'Liberation Sans',Arial,sans-serif" font-size="10" textLength="32.89" lengthAdjust="spacingAndGlyphs" fill="#000">24108.5</text><rect x="1611" y="81" width="3" height="1" fill="#000"/><text x="1616.00" y="85" font-family="'Liberation Sans',Arial,sans-serif" font-size="10" textLength="32.89" lengthAdjust="spacingAndGlyphs" fill="#000">24016.0</text><rect x="1611" y="114" width="3" height="1" fill="#000"/><text x="1616.00" y="118" font-family="'Liberation Sans',Arial,sans-serif" font-size="10" textLength="32.89" lengthAdjust="spacingAndGlyphs" fill="#000">23923.5</text><rect x="1611" y="147" width="3" height="1" fill="#000"/><text x="1616.00" y="151" font-family="'Liberation Sans',Arial,sans-serif" font-size="10" textLength="32.89" lengthAdjust="spacingAndGlyphs" fill="#000">23831.0</text><rect x="1611" y="180" width="3" height="1" fill="#000"/><text x="1616.00" y="184" font-family="'Liberation Sans',Arial,sans-serif" font-size="10" textLength="32.89" lengthAdjust="spacingAndGlyphs" fill="#000">23738.5</text><rect x="1611" y="213" width="3" height="1" fill="#000"/><text x="1616.00" y="217" font-family="'Liberation Sans',Arial,sans-serif" font-size="10" textLength="32.89" lengthAdjust="spacingAndGlyphs" fill="#000">23646.0</text><rect x="1611" y="246" width="3" height="1" fill="#000"/><text x="1616.00" y="250" font-family="'Liberation Sans',Arial,sans-serif" font-size="10" textLength="32.89" lengthAdjust="spacingAndGlyphs" fill="#000">23553.5</text><rect x="1611" y="279" width="3" height="1" fill="#000"/><text x="1616.00" y="283" font-family="'Liberation Sans',Arial,sans-serif" font-size="10" textLength="32.89" lengthAdjust="spacingAndGlyphs" fill="#000">23461.0</text><rect x="1611" y="312" width="3" height="1" fill="#000"/><text x="1616.00" y="316" font-family="'Liberation Sans',Arial,sans-serif" font-size="10" textLength="32.89" lengthAdjust="spacingAndGlyphs" fill="#000">23368.5</text><rect x="1611" y="345" width="3" height="1" fill="#000"/><text x="1616.00" y="349" font-family="'Liberation Sans',Arial,sans-serif" font-size="10" textLength="32.89" lengthAdjust="spacingAndGlyphs" fill="#000">23276.0</text><rect x="1611" y="378" width="3" height="1" fill="#000"/><text x="1616.00" y="382" font-family="'Liberation Sans',Arial,sans-serif" font-size="10" textLength="32.89" lengthAdjust="spacingAndGlyphs" fill="#000">23183.5</text><rect x="1611" y="411" width="3" height="1" fill="#000"/><text x="1616.00" y="415" font-family="'Liberation Sans',Arial,sans-serif" font-size="10" textLength="32.89" lengthAdjust="spacingAndGlyphs" fill="#000">23091.0</text><rect x="1611" y="444" width="3" height="1" fill="#000"/><text x="1616.00" y="448" font-family="'Liberation Sans',Arial,sans-serif" font-size="10" textLength="32.89" lengthAdjust="spacingAndGlyphs" fill="#000">22998.5</text><rect x="1611" y="477" width="3" height="1" fill="#000"/><text x="1616.00" y="481" font-family="'Liberation Sans',Arial,sans-serif" font-size="10" textLength="32.89" lengthAdjust="spacingAndGlyphs" fill="#000">22906.0</text><rect x="1611" y="510" width="3" height="1" fill="#000"/><text x="1616.00" y="514" font-family="'Liberation Sans',Arial,sans-serif" font-size="10" textLength="32.89" lengthAdjust="spacingAndGlyphs" fill="#000">22813.5</text><rect x="1611" y="543" width="3" height="1" fill="#000"/><text x="1616.00" y="547" font-family="'Liberation Sans',Arial,sans-serif" font-size="10" textLength="32.89" lengthAdjust="spacingAndGlyphs" fill="#000">22721.0</text><rect x="1611" y="576" width="3" height="1" fill="#000"/><text x="1616.00" y="580" font-family="'Liberation Sans',Arial,sans-serif" font-size="10" textLength="32.89" lengthAdjust="spacingAndGlyphs" fill="#000">22628.5</text><rect x="1612" y="261" width="41" height="11" fill="#000000"/><text x="1616.00" y="270" font-family="'Liberation Sans',Arial,sans-serif" font-size="10" textLength="32.89" lengthAdjust="spacingAndGlyphs" fill="#fff">23497.5</text><rect x="1612" y="215" width="41" height="11" fill="#ff0000"/><text x="1616.00" y="224" font-family="'Liberation Sans',Arial,sans-serif" font-size="10" textLength="32.89" lengthAdjust="spacingAndGlyphs" fill="#fff">23622.4</text><rect x="1612" y="238" width="41" height="11" fill="#ff0000"/><text x="1616.00" y="247" font-family="'Liberation Sans',Arial,sans-serif" font-size="10" textLength="32.89" lengthAdjust="spacingAndGlyphs" fill="#fff">23558.0</text><rect x="1612" y="254" width="41" height="11" fill="#32cd32"/><text x="1616.00" y="263" font-family="'Liberation Sans',Arial,sans-serif" font-size="10" textLength="32.89" lengthAdjust="spacingAndGlyphs" fill="#fff">23513.3</text><rect x="1612" y="279" width="41" height="11" fill="#0000ff"/><text x="1616.00" y="288" font-family="'Liberation Sans',Arial,sans-serif" font-size="10" textLength="32.89" lengthAdjust="spacingAndGlyphs" fill="#fff">23443.3</text><rect x="1612" y="308" width="41" height="11" fill="#0000ff"/><text x="1616.00" y="317" font-family="'Liberation Sans',Arial,sans-serif" font-size="10" textLength="32.89" lengthAdjust="spacingAndGlyphs" fill="#fff">23362.2</text><text x="-9.50" y="940" font-family="'Liberation Sans',Arial,sans-serif" font-size="10" textLength="50.09" lengthAdjust="spacingAndGlyphs" fill="#000">14 Jan 2020</text><rect x="55" y="928" width="1" height="3" fill="#000"/><text x="54.50" y="940" font-family="'Liberation Sans',Arial,sans-serif" font-size="10" textLength="52.62" lengthAdjust="spacingAndGlyphs" fill="#000">15 Jan 10:55</text><rect x="119" y="928" width="1" height="3" fill="#000"/><text x="118.50" y="940" font-family="'Liberation Sans',Arial,sans-serif" font-size="10" textLength="52.62" lengthAdjust="spacingAndGlyphs" fill="#000">16 Jan 18:55</text><rect x="183" y="928" width="1" height="3" fill="#000"/><text x="182.50" y="940" font-family="'Liberation Sans',Arial,sans-serif" font-size="10" textLength="52.62" lengthAdjust="spacingAndGlyphs" fill="#000">20 Jan 00:00</text><rect x="247" y="928" width="1" height="3" fill="#000"/><text x="246.50" y="940" font-family="'Liberation Sans',Arial,sans-serif" font-size="10" textLength="52.62" lengthAdjust="spacingAndGlyphs" fill="#000">21 Jan 10:55</text><rect x="311" y="928" width="1" height="3" fill="#000"/><text x="310.50" y="940" font-family="'Liberation Sans',Arial,sans-serif" font-size="10" textLength="52.62" lengthAdjust="spacingAndGlyphs" fill="#000">22 Jan 18:55</text><rect x="375" y="928" width="1" height="3" fill="#000"/><text x="374.50" y="940" font-family="'Liberation Sans',Arial,sans-serif" font-size="10" textLength="52.62" lengthAdjust="spacingAndGlyphs" fill="#000">24 Jan 00:00</text><rect x="439" y="928" width="1" height="3" fill="#000"/><text x="438.50" y="940" font-family="'Liberation Sans',Arial,sans-serif" font-size="10" textLength="52.62" lengthAdjust="spacingAndGlyphs" fill="#000">27 Jan 10:55</text><rect x="503" y="928" width="1" height="3" fill="#000"/><text x="502.50" y="940" font-family="'Liberation Sans',Arial,sans-serif" font-size="10" textLength="52.62" lengthAdjust="spacingAndGlyphs" fill="#000">28 Jan 18:55</text><rect x="567" y="928" width="1" height="3" fill="#000"/><text x="566.50" y="940" font-family="'Liberation Sans',Arial,sans-serif" font-size="10" textLength="52.62" lengthAdjust="spacingAndGlyphs" fill="#000">30 Jan 00:00</text><rect x="631" y="928" width="1" height="3" fill="#000"/><text x="630.50" y="940" font-family="'Liberation Sans',Arial,sans-serif" font-size="10" textLength="52.62" lengthAdjust="spacingAndGlyphs" fill="#000">31 Jan 10:55</text><rect x="695" y="928" width="1" height="3" fill="#000"/><text x="694.50" y="940" font-family="'Liberation Sans',Arial,sans-serif" font-size="10" textLength="48.57" lengthAdjust="spacingAndGlyphs" fill="#000">3 Feb 18:55</text><rect x="759" y="928" width="1" height="3" fill="#000"/><text x="758.50" y="940" font-family="'Liberation Sans',Arial,sans-serif" font-size="10" textLength="48.57" lengthAdjust="spacingAndGlyphs" fill="#000">5 Feb 00:00</text><rect x="823" y="928" width="1" height="3" fill="#000"/><text x="822.50" y="940" font-family="'Liberation Sans',Arial,sans-serif" font-size="10" textLength="48.57" lengthAdjust="spacingAndGlyphs" fill="#000">6 Feb 10:55</text><rect x="887" y="928" width="1" height="3" fill="#000"/><text x="886.50" y="940" font-family="'Liberation Sans',Arial,sans-serif" font-size="10" textLength="48.57" lengthAdjust="spacingAndGlyphs" fill="#000">7 Feb 18:55</text><rect x="951" y="928" width="1" height="3" fill="#000"/><text x="950.50" y="940" font-family="'Liberation Sans',Arial,sans-serif" font-size="10" textLength="52.96" lengthAdjust="spacingAndGlyphs" fill="#000">11 Feb 00:00</text><rect x="1015" y="928" width="1" height="3" fill="#000"/><text x="1014.50" y="940" font-family="'Liberation Sans',Arial,sans-serif" font-size="10" textLength="53.63" lengthAdjust="spacingAndGlyphs" fill="#000">12 Feb 10:55</text><rect x="1079" y="928" width="1" height="3" fill="#000"/><text x="1078.50" y="940" font-family="'Liberation Sans',Arial,sans-serif" font-size="10" textLength="53.63" lengthAdjust="spacingAndGlyphs" fill="#000">13 Feb 18:55</text><rect x="1143" y="928" width="1" height="3" fill="#000"/><text x="1142.50" y="940" font-family="'Liberation Sans',Arial,sans-serif" font-size="10" textLength="53.63" lengthAdjust="spacingAndGlyphs" fill="#000">17 Feb 00:00</text><rect x="1207" y="928" width="1" height="3" fill="#000"/><text x="1206.50" y="940" font-family="'Liberation Sans',Arial,sans-serif" font-size="10" textLength="53.63" lengthAdjust="spacingAndGlyphs" fill="#000">18 Feb 10:55</text><rect x="1271" y="928" width="1" height="3" fill="#000"/><text x="1270.50" y="940" font-family="'Liberation Sans',Arial,sans-serif" font-size="10" textLength="53.63" lengthAdjust="spacingAndGlyphs" fill="#000">19 Feb 18:55</text><g clip-path="url(#cmacd)"><rect x="7" y="629" width="1" height="39" fill="#c0c0c0"/><rect x="15" y="628" width="1" height="40" fill="#c0c0c0"/><rect x="23" y="628" width="1" height="40" fill="#c0c0c0"/><rect x="31" y="631" width="1" height="37" fill="#c0c0c0"/><rect x="39" y="634" width="1" height="34" fill="#c0c0c0"/><rect x="47" y="636" width="1" height="32" fill="#c0c0c0"/><rect x="55" y="636" width="1" height="32" fill="#c0c0c0"/><rect x="63" y="638" width="1" height="30" fill="#c0c0c0"/><rect x="71" y="641" width="1" height="27" fill="#c0c0c0"/><rect x="79" y="641" width="1" height="27" fill="#c0c0c0"/><rect x="87" y="643" width="1" height="25" fill="#c0c0c0"/><rect x="95" y="644" width="1" height="24" fill="#c0c0c0"/><rect x="103" y="644" width="1" height="24" fill="#c0c0c0"/><rect x="111" y="643" width="1" height="25" fill="#c0c0c0"/><rect x="119" y="642" width="1" height="26" fill="#c0c0c0"/><rect x="127" y="640" width="1" height="28" fill="#c0c0c0"/><rect x="135" y="640" width="1" height="28" fill="#c0c0c0"/><rect x="143" y="641" width="1" height="27" fill="#c0c0c0"/><rect x="151" y="643" width="1" height="25" fill="#c0c0c0"/><rect x="159" y="644" width="1" height="24" fill="#c0c0c0"/><rect x="167" y="645" width="1" height="23" fill="#c0c0c0"/><rect x="175" y="645" width="1" height="23" fill="#c0c0c0"/><rect x="183" y="645" width="1" height="23" fill="#c0c0c0"/><rect x="191" y="646" width="1" height="22" fill="#c0c0c0"/><rect x="199" y="647" width="1" height="21" fill="#c0c0c0"/><rect x="207" y="648" width="1" height="20" fill="#c0c0c0"/><rect x="215" y="649" width="1" height="19" fill="#c0c0c0"/><rect x="223" y="650" width="1" height="18" fill="#c0c0c0"/><rect x="231" y="657" width="1" height="11" fill="#c0c0c0"/><rect x="239" y="663" width="1" height="5" fill="#c0c0c0"/><rect x="247" y="666" width="1" height="2" fill="#c0c0c0"/><rect x="255" y="667" width="1" height="5" fill="#c0c0c0"/><rect x="263" y="667" width="1" height="9" fill="#c0c0c0"/><rect x="271" y="667" width="1" height="11" fill="#c0c0c0"/><rect x="279" y="667" width="1" height="8" fill="#c0c0c0"/><rect x="287" y="667" width="1" height="7" fill="#c0c0c0"/><rect x="295" y="667" width="1" height="6" fill="#c0c0c0"/><rect x="303" y="667" width="1" height="7" fill="#c0c0c0"/><rect x="311" y="667" width="1" height="9" fill="#c0c0c0"/><rect x="319" y="667" width="1" height="11" fill="#c0c0c0"/><rect x="327" y="667" width="1" height="12" fill="#c0c0c0"/><rect x="335" y="667" width="1" height="13" fill="#c0c0c0"/><rect x="343" y="667" width="1" height="18" fill="#c0c0c0"/><rect x="351" y="667" width="1" height="19" fill="#c0c0c0"/><rect x="359" y="667" width="1" height="18" fill="#c0c0c0"/><rect x="367" y="667" width="1" height="16" fill="#c0c0c0"/><rect x="375" y="667" width="1" height="16" fill="#c0c0c0"/><rect x="383" y="667" width="1" height="14" fill="#c0c0c0"/><rect x="391" y="667" width="1" height="14" fill="#c0c0c0"/><rect x="399" y="667" width="1" height="18" fill="#c0c0c0"/><rect x="407" y="667" width="1" height="21" fill="#c0c0c0"/><rect x="415" y="667" width="1" height="32" fill="#c0c0c0"/><rect x="423" y="667" width="1" height="39" fill="#c0c0c0"/><rect x="431" y="667" width="1" height="50" fill="#c0c0c0"/><rect x="439" y="667" width="1" height="57" fill="#c0c0c0"/><rect x="447" y="667" width="1" height="63" fill="#c0c0c0"/><rect x="455" y="667" width="1" height="69" fill="#c0c0c0"/><rect x="463" y="667" width="1" height="72" fill="#c0c0c0"/><rect x="471" y="667" width="1" height="74" fill="#c0c0c0"/><rect x="479" y="667" width="1" height="76" fill="#c0c0c0"/><rect x="487" y="667" width="1" height="74" fill="#c0c0c0"/><rect x="495" y="667" width="1" height="67" fill="#c0c0c0"/><rect x="503" y="667" width="1" height="60" fill="#c0c0c0"/><rect x="511" y="667" width="1" height="55" fill="#c0c0c0"/><rect x="519" y="667" width="1" height="50" fill="#c0c0c0"/><rect x="527" y="667" width="1" height="44" fill="#c0c0c0"/><rect x="535" y="667" width="1" height="40" fill="#c0c0c0"/><rect x="543" y="667" width="1" height="36" fill="#c0c0c0"/><rect x="551" y="667" width="1" height="35" fill="#c0c0c0"/><rect x="559" y="667" width="1" height="34" fill="#c0c0c0"/><rect x="567" y="667" width="1" height="42" fill="#c0c0c0"/><rect x="575" y="667" width="1" height="46" fill="#c0c0c0"/><rect x="583" y="667" width="1" height="49" fill="#c0c0c0"/><rect x="591" y="667" width="1" height="52" fill="#c0c0c0"/><rect x="599" y="667" width="1" height="49" fill="#c0c0c0"/><rect x="607" y="667" width="1" height="45" fill="#c0c0c0"/><rect x="615" y="667" width="1" height="40" fill="#c0c0c0"/><rect x="623" y="667" width="1" height="42" fill="#c0c0c0"/><rect x="631" y="667" width="1" height="47" fill="#c0c0c0"/><rect x="639" y="667" width="1" height="54" fill="#c0c0c0"/><rect x="647" y="667" width="1" height="60" fill="#c0c0c0"/><rect x="655" y="667" width="1" height="61" fill="#c0c0c0"/><rect x="663" y="667" width="1" height="57" fill="#c0c0c0"/><rect x="671" y="667" width="1" height="56" fill="#c0c0c0"/><rect x="679" y="667" width="1" height="51" fill="#c0c0c0"/><rect x="687" y="667" width="1" height="48" fill="#c0c0c0"/><rect x="695" y="667" width="1" height="45" fill="#c0c0c0"/><rect x="703" y="667" width="1" height="44" fill="#c0c0c0"/><rect x="711" y="667" width="1" height="37" fill="#c0c0c0"/><rect x="719" y="667" width="1" height="26" fill="#c0c0c0"/><rect x="727" y="667" width="1" height="13" fill="#c0c0c0"/><rect x="735" y="667" width="1" height="2" fill="#c0c0c0"/><rect x="743" y="660" width="1" height="8" fill="#c0c0c0"/><rect x="751" y="655" width="1" height="13" fill="#c0c0c0"/><rect x="759" y="650" width="1" height="18" fill="#c0c0c0"/><rect x="767" y="638" width="1" height="30" fill="#c0c0c0"/><rect x="775" y="630" width="1" height="38" fill="#c0c0c0"/><rect x="783" y="623" width="1" height="45" fill="#c0c0c0"/><rect x="791" y="616" width="1" height="52" fill="#c0c0c0"/><rect x="799" y="613" width="1" height="55" fill="#c0c0c0"/><rect x="807" y="606" width="1" height="62" fill="#c0c0c0"/><rect x="815" y="602" width="1" height="66" fill="#c0c0c0"/><rect x="823" y="599" width="1" height="69" fill="#c0c0c0"/><rect x="831" y="596" width="1" height="72" fill="#c0c0c0"/><rect x="839" y="593" width="1" height="75" fill="#c0c0c0"/><rect x="847" y="591" width="1" height="77" fill="#c0c0c0"/><rect x="855" y="594" width="1" height="74" fill="#c0c0c0"/><rect x="863" y="598" width="1" height="70" fill="#c0c0c0"/><rect x="871" y="604" width="1" height="64" fill="#c0c0c0"/><rect x="879" y="609" width="1" height="59" fill="#c0c0c0"/><rect x="887" y="615" width="1" height="53" fill="#c0c0c0"/><rect x="895" y="622" width="1" height="46" fill="#c0c0c0"/><rect x="903" y="626" width="1" height="42" fill="#c0c0c0"/><rect x="911" y="632" width="1" height="36" fill="#c0c0c0"/><rect x="919" y="636" width="1" height="32" fill="#c0c0c0"/><rect x="927" y="640" width="1" height="28" fill="#c0c0c0"/><rect x="935" y="642" width="1" height="26" fill="#c0c0c0"/><rect x="943" y="643" width="1" height="25" fill="#c0c0c0"/><rect x="951" y="639" width="1" height="29" fill="#c0c0c0"/><rect x="959" y="636" width="1" height="32" fill="#c0c0c0"/><rect x="967" y="632" width="1" height="36" fill="#c0c0c0"/><rect x="975" y="631" width="1" height="37" fill="#c0c0c0"/><rect x="983" y="632" width="1" height="36" fill="#c0c0c0"/><rect x="991" y="633" width="1" height="35" fill="#c0c0c0"/><rect x="999" y="636" width="1" height="32" fill="#c0c0c0"/><rect x="1007" y="636" width="1" height="32" fill="#c0c0c0"/><rect x="1015" y="635" width="1" height="33" fill="#c0c0c0"/><rect x="1023" y="635" width="1" height="33" fill="#c0c0c0"/><rect x="1031" y="634" width="1" height="34" fill="#c0c0c0"/><rect x="1039" y="637" width="1" height="31" fill="#c0c0c0"/><rect x="1047" y="641" width="1" height="27" fill="#c0c0c0"/><rect x="1055" y="650" width="1" height="18" fill="#c0c0c0"/><rect x="1063" y="654" width="1" height="14" fill="#c0c0c0"/><rect x="1071" y="656" width="1" height="12" fill="#c0c0c0"/><rect x="1079" y="660" width="1" height="8" fill="#c0c0c0"/><rect x="1087" y="665" width="1" height="3" fill="#c0c0c0"/><rect x="1095" y="667" width="1" height="1" fill="#c0c0c0"/><rect x="1103" y="667" width="1" height="4" fill="#c0c0c0"/><rect x="1111" y="667" width="1" height="10" fill="#c0c0c0"/><rect x="1119" y="667" width="1" height="15" fill="#c0c0c0"/><rect x="1127" y="667" width="1" height="19" fill="#c0c0c0"/><rect x="1135" y="667" width="1" height="22" fill="#c0c0c0"/><rect x="1143" y="667" width="1" height="24" fill="#c0c0c0"/><rect x="1151" y="667" width="1" height="25" fill="#c0c0c0"/><rect x="1159" y="667" width="1" height="26" fill="#c0c0c0"/><rect x="1167" y="667" width="1" height="26" fill="#c0c0c0"/><rect x="1175" y="667" width="1" height="25" fill="#c0c0c0"/><rect x="1183" y="667" width="1" height="28" fill="#c0c0c0"/><rect x="1191" y="667" width="1" height="37" fill="#c0c0c0"/><rect x="1199" y="667" width="1" height="43" fill="#c0c0c0"/><rect x="1207" y="667" width="1" height="45" fill="#c0c0c0"/><rect x="1215" y="667" width="1" height="48" fill="#c0c0c0"/><rect x="1223" y="667" width="1" height="50" fill="#c0c0c0"/><rect x="1231" y="667" width="1" height="47" fill="#c0c0c0"/><rect x="1239" y="667" width="1" height="41" fill="#c0c0c0"/><rect x="1247" y="667" width="1" height="37" fill="#c0c0c0"/><rect x="1255" y="667" width="1" height="28" fill="#c0c0c0"/><rect x="1263" y="667" width="1" height="19" fill="#c0c0c0"/><rect x="1271" y="667" width="1" height="13" fill="#c0c0c0"/><rect x="1279" y="667" width="1" height="6" fill="#c0c0c0"/><rect x="1287" y="667" width="1" height="7" fill="#c0c0c0"/><rect x="1295" y="667" width="1" height="3" fill="#c0c0c0"/><rect x="1303" y="666" width="1" height="2" fill="#c0c0c0"/><rect x="1311" y="667" width="1" height="1" fill="#c0c0c0"/><rect x="1319" y="667" width="1" height="1" fill="#c0c0c0"/><polyline points="-0.5,631.80 7.5,631.10 15.5,630.30 23.5,629.67 31.5,629.20 39.5,629.38 47.5,629.87 55.5,630.78 63.5,632.03 71.5,633.46 79.5,634.88 87.5,636.59 95.5,638.30 103.5,639.72 111.5,640.79 119.5,641.49 127.5,641.92 135.5,642.15 143.5,642.20 151.5,642.33 159.5,642.35 167.5,642.51 175.5,642.65 183.5,642.84 191.5,643.33 199.5,644.13 207.5,644.99 215.5,645.84 223.5,646.67 231.5,648.13 239.5,650.13 247.5,652.49 255.5,655.43 263.5,658.69 271.5,662.09 279.5,665.04 287.5,667.79 295.5,670.36 303.5,672.26 311.5,673.65 319.5,674.89 327.5,675.74 335.5,676.22 343.5,677.02 351.5,678.31 359.5,679.62 367.5,680.76 375.5,681.82 383.5,682.40 391.5,682.73 399.5,683.41 407.5,684.33 415.5,685.92 423.5,688.11 431.5,691.66 439.5,696.13 447.5,701.29 455.5,707.40 463.5,713.90 471.5,720.05 479.5,726.13 487.5,730.76 495.5,733.86 503.5,734.89 511.5,734.76 519.5,733.28 527.5,730.51 535.5,726.97 543.5,722.82 551.5,718.23 559.5,713.74 567.5,710.98 575.5,709.45 583.5,708.71 591.5,709.02 599.5,709.53 607.5,710.05 615.5,710.43 623.5,711.29 631.5,712.73 639.5,714.01 647.5,715.53 655.5,716.91 663.5,717.38 671.5,718.17 679.5,718.85 687.5,719.78 695.5,720.09 703.5,719.76 711.5,717.92 719.5,714.13 727.5,708.79 735.5,702.70 743.5,695.76 751.5,688.79 759.5,681.60 767.5,673.41 775.5,664.42 783.5,655.37 791.5,646.89 799.5,639.44 807.5,632.47 815.5,625.96 823.5,619.67 831.5,613.60 839.5,608.55 847.5,604.22 855.5,600.99 863.5,599.00 871.5,597.95 879.5,598.30 887.5,599.78 895.5,602.42 903.5,605.81 911.5,610.12 919.5,615.18 927.5,620.36 935.5,625.21 943.5,629.56 951.5,632.85 959.5,635.16 967.5,636.27 975.5,636.84 983.5,636.84 991.5,636.49 999.5,636.05 1007.5,635.34 1015.5,634.51 1023.5,634.07 1031.5,633.90 1039.5,634.46 1047.5,635.57 1055.5,637.58 1063.5,639.88 1071.5,642.10 1079.5,644.84 1087.5,648.12 1095.5,651.72 1103.5,655.77 1111.5,660.13 1119.5,664.63 1127.5,668.65 1135.5,672.50 1143.5,676.35 1151.5,679.85 1159.5,682.94 1167.5,685.79 1175.5,688.21 1183.5,690.25 1191.5,692.75 1199.5,695.41 1207.5,698.00 1215.5,700.71 1223.5,703.48 1231.5,705.83 1239.5,707.54 1247.5,708.77 1255.5,708.74 1263.5,706.69 1271.5,703.33 1279.5,698.95 1287.5,694.35 1295.5,689.15 1303.5,683.87 1311.5,679.43 1319.5,675.47" fill="none" stroke="#ff0000" stroke-width="1" shape-rendering="crispEdges" stroke-dasharray="3,3"/></g><text x="-4.00" y="594" font-family="'Liberation Sans',Arial,sans-serif" font-size="10" textLength="117.34" lengthAdjust="spacingAndGlyphs" fill="#000">MACD(12,26,9) -0.83 -21.77</text><rect x="1611" y="583" width="1" height="1" fill="#000"/><rect x="1611" y="667" width="1" height="1" fill="#000"/><rect x="1611" y="750" width="1" height="1" fill="#000"/><text x="1614.00" y="591" font-family="'Liberation Sans',Arial,sans-serif" font-size="10" textLength="27.83" lengthAdjust="spacingAndGlyphs" fill="#000">230.88</text><text x="1614.00" y="671" font-family="'Liberation Sans',Arial,sans-serif" font-size="10" textLength="17.71" lengthAdjust="spacingAndGlyphs" fill="#000">0.00</text><text x="1614.00" y="747" font-family="'Liberation Sans',Arial,sans-serif" font-size="10" textLength="25.80" lengthAdjust="spacingAndGlyphs" fill="#000">-227.8</text><g clip-path="url(#crsi)"><line x1="0" y1="789.5" x2="1610" y2="789.5" stroke="#c0c0c0" stroke-width="1" stroke-dasharray="3,3"/><line x1="0" y1="840.5" x2="1610" y2="840.5" stroke="#c0c0c0" stroke-width="1" stroke-dasharray="3,3"/><line x1="0" y1="901.5" x2="1610" y2="901.5" stroke="#c0c0c0" stroke-width="1" stroke-dasharray="3,3"/><polyline points="-0.5,815.49 7.5,813.96 15.5,809.12 23.5,811.48 31.5,823.52 39.5,825.03 47.5,822.20 55.5,817.45 63.5,825.75 71.5,828.94 79.5,821.09 87.5,830.10 95.5,823.23 103.5,820.93 111.5,817.17 119.5,812.57 127.5,808.79 135.5,819.04 143.5,821.31 151.5,823.50 159.5,822.97 167.5,825.73 175.5,817.75 183.5,815.99 191.5,826.16 199.5,824.92 207.5,822.57 215.5,823.28 223.5,825.52 231.5,863.35 239.5,867.07 247.5,853.70 255.5,865.03 263.5,865.30 271.5,860.12 279.5,833.58 287.5,841.23 295.5,842.73 303.5,848.43 311.5,853.84 319.5,855.66 327.5,856.85 335.5,855.20 343.5,872.34 351.5,857.00 359.5,849.47 367.5,843.85 375.5,851.72 383.5,840.91 391.5,847.61 399.5,863.66 407.5,861.05 415.5,879.86 423.5,872.75 431.5,882.82 439.5,875.09 447.5,878.32 455.5,880.64 463.5,878.02 471.5,877.92 479.5,880.96 487.5,869.13 495.5,852.74 503.5,849.97 511.5,854.86 519.5,849.19 527.5,847.40 535.5,850.67 543.5,849.14 551.5,854.25 559.5,856.09 567.5,876.80 575.5,868.59 583.5,868.97 591.5,872.99 599.5,851.85 607.5,851.86 615.5,846.26 623.5,862.01 631.5,866.68 639.5,873.31 647.5,875.22 655.5,866.46 663.5,852.32 671.5,858.32 679.5,850.13 687.5,852.67 695.5,852.24 703.5,855.17 711.5,841.50 719.5,829.07 727.5,822.99 735.5,820.74 743.5,821.41 751.5,826.52 759.5,824.28 767.5,809.55 775.5,810.98 783.5,809.65 791.5,807.62 799.5,812.13 807.5,804.04 815.5,804.70 823.5,804.55 831.5,802.42 839.5,800.02 847.5,798.80 855.5,813.82 863.5,821.08 871.5,823.82 879.5,826.71 887.5,828.99 895.5,838.40 903.5,830.53 911.5,837.56 919.5,837.32 927.5,836.49 935.5,831.45 943.5,828.47 951.5,814.40 959.5,813.60 967.5,810.76 975.5,816.32 983.5,819.59 991.5,824.42 999.5,830.74 1007.5,819.86 1015.5,819.49 1023.5,817.58 1031.5,815.51 1039.5,832.86 1047.5,837.33 1055.5,855.90 1063.5,845.26 1071.5,841.12 1079.5,848.47 1087.5,852.64 1095.5,847.77 1103.5,852.96 1111.5,862.70 1119.5,864.17 1127.5,864.62 1135.5,862.96 1143.5,864.21 1151.5,860.97 1159.5,862.66 1167.5,861.20 1175.5,859.42 1183.5,871.52 1191.5,888.24 1199.5,881.13 1207.5,871.83 1215.5,876.68 1223.5,873.74 1231.5,857.52 1239.5,846.72 1247.5,847.02 1255.5,831.58 1263.5,826.55 1271.5,829.95 1279.5,824.09 1287.5,847.02 1295.5,833.71 1303.5,832.27 1311.5,845.68 1319.5,840.46" fill="none" stroke="#1e90ff" stroke-width="1" shape-rendering="crispEdges" /></g><text x="-6.00" y="766" font-family="'Liberation Sans',Arial,sans-serif" font-size="10" textLength="68.24" lengthAdjust="spacingAndGlyphs" fill="#000">RSI(14) 50.4012</text><rect x="1611" y="755" width="1" height="1" fill="#000"/><text x="1613.50" y="763" font-family="'Liberation Sans',Arial,sans-serif" font-size="10" textLength="15.18" lengthAdjust="spacingAndGlyphs" fill="#000">100</text><text x="1613.50" y="793" font-family="'Liberation Sans',Arial,sans-serif" font-size="10" textLength="10.12" lengthAdjust="spacingAndGlyphs" fill="#000">80</text><text x="1613.50" y="844" font-family="'Liberation Sans',Arial,sans-serif" font-size="10" textLength="10.12" lengthAdjust="spacingAndGlyphs" fill="#000">50</text><text x="1613.50" y="905" font-family="'Liberation Sans',Arial,sans-serif" font-size="10" textLength="10.12" lengthAdjust="spacingAndGlyphs" fill="#000">15</text><rect x="1611" y="927" width="1" height="1" fill="#000"/><text x="1613.50" y="924" font-family="'Liberation Sans',Arial,sans-serif" font-size="10" textLength="5.06" lengthAdjust="spacingAndGlyphs" fill="#000">0</text><polygon points="1329,27 1338,27 1333.5,32" fill="#c0c0c0"/><g clip-path="url(#cm)"><g shape-rendering="crispEdges"><line x1="1199.5" y1="405.5" x2="1271" y2="189" stroke="#ff0000" stroke-width="3"/><polygon points="1265.8,188.3 1274,178.6 1275.6,180.2 1275.6,191 1273.6,192" fill="#ff0000"/><line x1="1277" y1="177.5" x2="1313" y2="303" stroke="#ff0000" stroke-width="3"/><polygon points="1308,303.6 1317.3,299.6 1318.2,306.3 1315.5,313" fill="#ff0000"/></g><rect x="1244" y="254" width="123" height="10" fill="#00ff00"/><rect x="1408" y="260" width="10" height="1" fill="#ff0000"/><rect x="1418.5" y="248.5" width="73" height="24" fill="#fff" stroke="#ff0000" stroke-width="1"/><text x="1420" y="269" font-family="'Liberation Sans',Arial,sans-serif" font-size="20" textLength="70" lengthAdjust="spacingAndGlyphs" fill="#ff0000">23513.3</text></g><text x="-2.50" y="38" font-family="'Liberation Sans',Arial,sans-serif" font-size="10" textLength="3.03" lengthAdjust="spacingAndGlyphs" fill="#000">-</text><text x="6.00" y="38" font-family="'Liberation Sans',Arial,sans-serif" font-size="10" textLength="50.11" lengthAdjust="spacingAndGlyphs" fill="#000">JPN225-,H4</text><text x="62.50" y="38" font-family="'Liberation Sans',Arial,sans-serif" font-size="10" textLength="139.77" lengthAdjust="spacingAndGlyphs" fill="#000">23430.0 23497.5 23417.5 23497.5</text></svg>
<div id="tb"><div class="l1"></div><div class="l2"></div><svg style="position:absolute;left:0;top:0" width="1657" height="22"><text x="0" y="14" font-family="'Noto Sans CJK SC',sans-serif" font-size="12" fill="#000">新订单</text><g transform="translate(48,3)"><path d="M1 10 L5 3 L8 0.5 L16 6 L13 13 L9 15 Z" fill="#a86a10"/><path d="M2 9.5 L6 2.5 L8.5 1.5 L14.5 6 L11.5 12 Z" fill="#f0c020"/><path d="M11 13 L14.5 6.5 L15.5 7.5 L12.5 14Z" fill="#d8b070"/></g><g transform="translate(76,2)"><rect x="2.5" y="0.5" width="10" height="10" fill="#1890f0" stroke="#0a70d0"/><path d="M2.5 0.5 L5 2.5 V11" stroke="#9fd4ff" fill="none"/><rect x="7" y="4" width="5" height="1" fill="#e0f0ff"/><path d="M1 15 Q0 11.5 3.5 11.5 Q4.5 8 8.5 9 Q11 7.5 12.5 10.5 Q16 10.5 15.5 14 Q15.5 15.5 13 15.5 H2.5 Q1 15.5 1 15Z" fill="#dde6f2" stroke="#46609a" stroke-width="0.9"/></g><g transform="translate(104,2)" fill="none"><circle cx="8" cy="8" r="7.3" stroke="#7fa8e0" stroke-width="1"/><circle cx="8" cy="8" r="4.8" stroke="#4070d0" stroke-width="1"/><path d="M8 0.7 A7.3 7.3 0 0 1 8 15.3" stroke="#60b060" stroke-width="1.2"/><path d="M8 3.2 A4.8 4.8 0 0 1 8 12.8" stroke="#40a040" stroke-width="1.1"/><circle cx="7.5" cy="7.5" r="1.8" fill="#2050c0"/><path d="M8.5 8 V15.5" stroke="#20a020" stroke-width="1.3"/></g><g transform="translate(131,2)"><path d="M2 8 L9 16 L15 9 Z" fill="#f5e060" stroke="#c8a020" stroke-width="0.8"/><ellipse cx="8" cy="6" rx="7.5" ry="2.8" fill="#5ab4e4" stroke="#2a80b8" stroke-width="0.8"/><ellipse cx="8" cy="3.6" rx="3.8" ry="3" fill="#76c4ec" stroke="#2a80b8" stroke-width="0.8"/><circle cx="12.5" cy="12.5" r="3.8" fill="#d82010"/><rect x="11" y="11" width="3" height="3" fill="#fff"/></g><text x="153" y="14" font-family="'Noto Sans CJK SC',sans-serif" font-size="12" fill="#000">自动交易</text><rect x="207" y="1" width="1" height="19" fill="#a0a0a0"/><rect x="208" y="1" width="1" height="19" fill="#ffffff"/><rect x="211" y="1" width="3" height="1" fill="#a8a8a8"/><rect x="211" y="3" width="3" height="1" fill="#a8a8a8"/><rect x="211" y="5" width="3" height="1" fill="#a8a8a8"/><rect x="211" y="7" width="3" height="1" fill="#a8a8a8"/><rect x="211" y="9" width="3" height="1" fill="#a8a8a8"/><rect x="211" y="11" width="3" height="1" fill="#a8a8a8"/><rect x="211" y="13" width="3" height="1" fill="#a8a8a8"/><rect x="211" y="15" width="3" height="1" fill="#a8a8a8"/><rect x="211" y="17" width="3" height="1" fill="#a8a8a8"/><rect x="211" y="19" width="3" height="1" fill="#a8a8a8"/><path d="M225.5 18 V5" stroke="#4f4f4f" stroke-width="1.2" fill="none"/><path d="M223.5 6.5 L225.5 3.8 L227.5 6.5Z" fill="#4f4f4f"/><path d="M223 15.5 H235.5" stroke="#4f4f4f" stroke-width="1.2" fill="none"/><path d="M234.5 13.5 L237.2 15.5 L234.5 17.5Z" fill="#4f4f4f"/><path d="M231.5 5 V14 M229 12.5 H231.5 M231.5 6.5 H234" stroke="#109010" stroke-width="1.1" fill="none"/><rect x="245" y="1" width="1" height="19" fill="#a0a0a0"/><rect x="246" y="1" width="1" height="19" fill="#ffffff"/><rect x="247" y="0" width="24" height="21" fill="#f7f7f7"/><path d="M253.5 18 V5" stroke="#4f4f4f" stroke-width="1.2" fill="none"/><path d="M251.5 6.5 L253.5 3.8 L255.5 6.5Z" fill="#4f4f4f"/><path d="M251 15.5 H263.5" stroke="#4f4f4f" stroke-width="1.2" fill="none"/><path d="M262.5 13.5 L265.2 15.5 L262.5 17.5Z" fill="#4f4f4f"/><path d="M259.5 2 V14.5" stroke="#0a900a" stroke-width="1.2"/><rect x="257.5" y="4.5" width="4" height="7.5" fill="#50e050" stroke="#0a900a" stroke-width="1"/><path d="M281.5 18 V5" stroke="#4f4f4f" stroke-width="1.2" fill="none"/><path d="M279.5 6.5 L281.5 3.8 L283.5 6.5Z" fill="#4f4f4f"/><path d="M279 15.5 H291.5" stroke="#4f4f4f" stroke-width="1.2" fill="none"/><path d="M290.5 13.5 L293.2 15.5 L290.5 17.5Z" fill="#4f4f4f"/><path d="M280 12.5 Q286 3 288 8 Q290 11 292.5 11" stroke="#30a030" stroke-width="1.1" fill="none"/><rect x="302" y="1" width="1" height="19" fill="#a0a0a0"/><rect x="303" y="1" width="1" height="19" fill="#ffffff"/><path d="M320.3 11.5 L325.8 17" stroke="#b08010" stroke-width="3"/><path d="M320.3 11.5 L325.8 17" stroke="#f0d040" stroke-width="1.6"/><circle cx="316.8" cy="7.9" r="5.4" fill="#d9f1fc" stroke="#3a80c8" stroke-width="1.1"/><rect x="313.3" y="7" width="7" height="2" fill="#4a8ab0"/><rect x="315.8" y="4.5" width="2" height="7" fill="#4a8ab0"/><path d="M348.6 11.5 L354.1 17" stroke="#b08010" stroke-width="3"/><path d="M348.6 11.5 L354.1 17" stroke="#f0d040" stroke-width="1.6"/><circle cx="345.1" cy="7.9" r="5.4" fill="#d9f1fc" stroke="#3a80c8" stroke-width="1.1"/><rect x="341.6" y="7" width="7" height="2" fill="#4a8ab0"/><rect x="367" y="2" width="8" height="8" fill="#38a018"/><rect x="368.5" y="5" width="5" height="3" fill="#fff"/><rect x="375" y="2" width="8" height="8" fill="#2050d0"/><rect x="376.5" y="5" width="5" height="3" fill="#fff"/><rect x="367" y="10" width="8" height="8" fill="#2050d0"/><rect x="368.5" y="13" width="5" height="3" fill="#fff"/><rect x="375" y="10" width="8" height="8" fill="#38a018"/><rect x="376.5" y="13" width="5" height="3" fill="#fff"/><rect x="392" y="1" width="1" height="19" fill="#a0a0a0"/><rect x="393" y="1" width="1" height="19" fill="#ffffff"/><rect x="398" y="0" width="25" height="21" fill="#f7f7f7"/><path d="M405.5 18 V5" stroke="#4f4f4f" stroke-width="1.2" fill="none"/><path d="M403.5 6.5 L405.5 3.8 L407.5 6.5Z" fill="#4f4f4f"/><path d="M403 15.5 H415.5" stroke="#4f4f4f" stroke-width="1.2" fill="none"/><path d="M414.5 13.5 L417.2 15.5 L414.5 17.5Z" fill="#4f4f4f"/><path d="M411 6 L415 9.5 L411 13Z" fill="#30c030" stroke="#109010" stroke-width="0.8"/><rect x="425" y="1" width="1" height="19" fill="#a0a0a0"/><rect x="426" y="1" width="1" height="19" fill="#ffffff"/><rect x="427" y="0" width="24" height="21" fill="#f7f7f7"/><path d="M433.5 18 V5" stroke="#4f4f4f" stroke-width="1.2" fill="none"/><path d="M431.5 6.5 L433.5 3.8 L435.5 6.5Z" fill="#4f4f4f"/><path d="M431 15.5 H443.5" stroke="#4f4f4f" stroke-width="1.2" fill="none"/><path d="M442.5 13.5 L445.2 15.5 L442.5 17.5Z" fill="#4f4f4f"/><path d="M439.5 3 V14" stroke="#2060b0" stroke-width="1.2"/><path d="M445 8.5 H441 M443 6.5 L441 8.5 L443 10.5" stroke="#e04010" stroke-width="1.3" fill="none"/><rect x="454" y="1" width="1" height="19" fill="#a0a0a0"/><rect x="455" y="1" width="1" height="19" fill="#ffffff"/><g transform="translate(464,2)"><path d="M0.5 0.5 H8 L11 3.5 V14.5 H0.5Z" fill="#fff" stroke="#606060"/><path d="M3 3 V12" stroke="#808080"/><path d="M9 7 H12 V10 H15 V13 H12 V16.5 H9 V13 H6 V10 H9Z" fill="#30d030" stroke="#108010" stroke-width="0.8"/></g><path d="M485 9 H491 L488 12Z" fill="#000"/><circle cx="510" cy="10" r="7.8" fill="#1d5fc4"/><circle cx="510" cy="10" r="7" fill="#3a86e0"/><circle cx="510" cy="10" r="5" fill="#f6f6f6"/><path d="M510 6 V10 H513" stroke="#303030" stroke-width="1" fill="none"/><path d="M524.5 9 H530.5 L527.5 12Z" fill="#000"/><rect x="541.5" y="3.5" width="15" height="13" fill="#fff" stroke="#3060b0"/><rect x="542" y="4" width="14" height="2" fill="#5a90e0"/><path d="M543 10 L546 9 L549 10 L552 8.5 L555 9.5" stroke="#c03020" fill="none" stroke-width="0.9"/><path d="M542 11.5 H556" stroke="#3060b0"/><path d="M543 15 L546 13.5 L549 14.5 L552 13 L555 14" stroke="#20a020" fill="none" stroke-width="0.9"/><path d="M563 9 H569 L566 12Z" fill="#000"/><rect x="575" y="1" width="1" height="19" fill="#a0a0a0"/><rect x="576" y="1" width="1" height="19" fill="#ffffff"/><rect x="579" y="1" width="3" height="1" fill="#a8a8a8"/><rect x="579" y="3" width="3" height="1" fill="#a8a8a8"/><rect x="579" y="5" width="3" height="1" fill="#a8a8a8"/><rect x="579" y="7" width="3" height="1" fill="#a8a8a8"/><rect x="579" y="9" width="3" height="1" fill="#a8a8a8"/><rect x="579" y="11" width="3" height="1" fill="#a8a8a8"/><rect x="579" y="13" width="3" height="1" fill="#a8a8a8"/><rect x="579" y="15" width="3" height="1" fill="#a8a8a8"/><rect x="579" y="17" width="3" height="1" fill="#a8a8a8"/><rect x="579" y="19" width="3" height="1" fill="#a8a8a8"/><rect x="586" y="0" width="25" height="21" fill="#f7f7f7"/><path d="M593 3 V15 L596 12 L598.5 17 L600.5 16 L598 11.5 L602 11.5Z" fill="#404040"/><path d="M625.5 3 V18 M618 10.5 H633" stroke="#404040" stroke-width="1.1"/><rect x="642" y="1" width="1" height="19" fill="#a0a0a0"/><rect x="643" y="1" width="1" height="19" fill="#ffffff"/><path d="M659.5 4 V17" stroke="#404040" stroke-width="1.2"/><path d="M682 10.5 H694" stroke="#404040" stroke-width="1.2"/><path d="M710 17 L722 5" stroke="#404040" stroke-width="1.1"/><path d="M736 12 L748 3 M738 15.5 L750 6.5 M739 7 L741 14 M742 5 L744 12 M745 3.5 L747 10" stroke="#404040" stroke-width="1" fill="none"/><text x="747" y="18" font-family="'Liberation Sans',sans-serif" font-weight="bold" font-size="7" fill="#404040">E</text><path d="M765 4.5 H778 M765 8 H778 M765 11.5 H778 M765 15 H774" stroke="#404040" stroke-width="1" stroke-dasharray="1,1" fill="none"/><text x="774.5" y="19" font-family="'Liberation Sans',sans-serif" font-weight="bold" font-size="7" fill="#404040">F</text><text x="795.5" y="15" font-family="'Liberation Sans',sans-serif" font-weight="bold" font-size="11" fill="#505050">A</text><rect x="821.5" y="4.5" width="12" height="12" fill="none" stroke="#505050" stroke-dasharray="1,1"/><text x="823.5" y="15" font-family="'Liberation Sans',sans-serif" font-weight="bold" font-size="11" fill="#505050">T</text><path d="M849 6.5 L852 3.5 L855 6.5 L852 9.5Z M857 13 L860 10 L863 13 L860 16Z" fill="#404040"/><path d="M851 10 L854 13 L859 7" stroke="#404040" stroke-width="1.2" fill="none"/><path d="M869 9 H875 L872 12Z" fill="#000"/><rect x="881" y="1" width="1" height="19" fill="#a0a0a0"/><rect x="882" y="1" width="1" height="19" fill="#ffffff"/><rect x="885" y="1" width="3" height="1" fill="#a8a8a8"/><rect x="885" y="3" width="3" height="1" fill="#a8a8a8"/><rect x="885" y="5" width="3" height="1" fill="#a8a8a8"/><rect x="885" y="7" width="3" height="1" fill="#a8a8a8"/><rect x="885" y="9" width="3" height="1" fill="#a8a8a8"/><rect x="885" y="11" width="3" height="1" fill="#a8a8a8"/><rect x="885" y="13" width="3" height="1" fill="#a8a8a8"/><rect x="885" y="15" width="3" height="1" fill="#a8a8a8"/><rect x="885" y="17" width="3" height="1" fill="#a8a8a8"/><rect x="885" y="19" width="3" height="1" fill="#a8a8a8"/><rect x="1032" y="0" width="25" height="21" fill="#f7f7f7"/><text x="896.5" y="14.2" font-family="'Liberation Sans',sans-serif" font-size="9.6" fill="#303030">M1</text><text x="924.5" y="14.2" font-family="'Liberation Sans',sans-serif" font-size="9.6" fill="#303030">M5</text><text x="950.5" y="14.2" font-family="'Liberation Sans',sans-serif" font-size="9.6" fill="#303030">M15</text><text x="978.5" y="14.2" font-family="'Liberation Sans',sans-serif" font-size="9.6" fill="#303030">M30</text><text x="1009.5" y="14.2" font-family="'Liberation Sans',sans-serif" font-size="9.6" fill="#303030">H1</text><text x="1036.5" y="14.2" font-family="'Liberation Sans',sans-serif" font-size="9.6" fill="#303030">H4</text><text x="1065.5" y="14.2" font-family="'Liberation Sans',sans-serif" font-size="9.6" fill="#303030">D1</text><text x="1092.5" y="14.2" font-family="'Liberation Sans',sans-serif" font-size="9.6" fill="#303030">W1</text><text x="1119.5" y="14.2" font-family="'Liberation Sans',sans-serif" font-size="9.6" fill="#303030">MN</text><rect x="1031" y="1" width="1" height="19" fill="#a0a0a0"/><rect x="1032" y="1" width="1" height="19" fill="#ffffff"/><rect x="1142" y="1" width="1" height="19" fill="#a0a0a0"/><rect x="1143" y="1" width="1" height="19" fill="#ffffff"/><circle cx="1611" cy="8" r="3.6" fill="none" stroke="#2050c8" stroke-width="1.4"/><path d="M1608.5 10.5 L1605 14" stroke="#2050c8" stroke-width="2.2"/><g fill="#e8e8ee" stroke="#909098" stroke-width="0.8"><ellipse cx="1645" cy="7.5" rx="6" ry="4.5"/><path d="M1646 11.5 L1648 14 L1648 11Z"/><ellipse cx="1636" cy="11" rx="5.5" ry="4"/><path d="M1634 14.5 L1633 17 L1636.5 14.8Z"/></g></svg></div>
<div class="rb"></div>

<div style="position:absolute;left:0;top:46px;width:215px;height:66px;background:#fff"></div>
<div style="position:absolute;left:0;top:46px;width:46px;height:25px;background:linear-gradient(#f95757,#e33535);border-top:1px solid #b40000;border-right:1px solid #b40000"></div>
<div style="position:absolute;left:0;top:70px;width:103px;height:40px;background:linear-gradient(#e23232,#b30606);border-right:1px solid #b40000;border-bottom:1px solid #b40000"></div>
<div style="position:absolute;left:45px;top:70px;width:58px;height:1px;background:#b40000"></div>
<div style="position:absolute;left:0;top:69px;width:43px;height:1px;background:#8a0000"></div>
<div style="position:absolute;left:0;top:70px;width:43px;height:1px;background:#f07070"></div>
<div style="position:absolute;left:161px;top:46px;width:52px;height:25px;background:linear-gradient(#f95757,#e33535);border:1px solid #b40000;border-bottom:none"></div>
<div style="position:absolute;left:105px;top:70px;width:108px;height:40px;background:linear-gradient(#e23232,#b30606);border:1px solid #b40000;border-top:none"></div>
<div style="position:absolute;left:105px;top:70px;width:57px;height:1px;background:#b40000"></div>
<div style="position:absolute;left:165px;top:69px;width:44px;height:1px;background:#8a0000"></div>
<div style="position:absolute;left:165px;top:70px;width:44px;height:1px;background:#f07070"></div>
<div style="position:absolute;left:48px;top:46px;width:111px;height:22px;background:#fff;border:1px solid #a9adb5"></div>
<div style="position:absolute;left:69px;top:46px;width:1px;height:22px;background:#a9adb5"></div>
<div style="position:absolute;left:137px;top:46px;width:1px;height:22px;background:#a9adb5"></div>
<div style="position:absolute;left:50px;top:48px;width:18px;height:18px;background:linear-gradient(#f3f3f3 0%,#e9e9e9 45%,#dadada 50%,#d2d2d2 100%)"></div>
<div style="position:absolute;left:139px;top:48px;width:18px;height:18px;background:linear-gradient(#f3f3f3 0%,#e9e9e9 45%,#dadada 50%,#d2d2d2 100%)"></div>
<svg style="position:absolute;left:0;top:0" width="220" height="112">
<path d="M55.5 55 H61.5 L58.5 58.2Z" fill="#4a64c0"/>
<path d="M144.5 58 H150.5 L147.5 54.8Z" fill="#4a64c0"/>
<text x="133.5" y="61" text-anchor="end" font-family="'Liberation Sans',sans-serif" font-size="12" fill="#000">1.00</text>
<text x="6.5" y="61.6" font-family="'Liberation Sans',sans-serif" font-size="11.2" textLength="25.4" lengthAdjust="spacingAndGlyphs" fill="#fff">SELL</text>
<text x="174.8" y="62" font-family="'Liberation Sans',sans-serif" font-size="12" textLength="22.8" lengthAdjust="spacingAndGlyphs" fill="#fff">BUY</text>
<text x="9.5" y="100.7" font-family="'Liberation Sans',sans-serif" font-weight="bold" font-size="11.5" textLength="34.6" lengthAdjust="spacingAndGlyphs" fill="#fff">23496</text>
<text x="46" y="100.7" font-family="'Liberation Sans',sans-serif" font-size="33" fill="#fff">.0</text>
<text x="119.7" y="100.7" font-family="'Liberation Sans',sans-serif" font-weight="bold" font-size="11.5" textLength="34.6" lengthAdjust="spacingAndGlyphs" fill="#fff">23519</text>
<text x="157" y="100.7" font-family="'Liberation Sans',sans-serif" font-size="33" fill="#fff">.0</text>
</svg>

<div class="cn">多空转折点</div>
</body></html>
